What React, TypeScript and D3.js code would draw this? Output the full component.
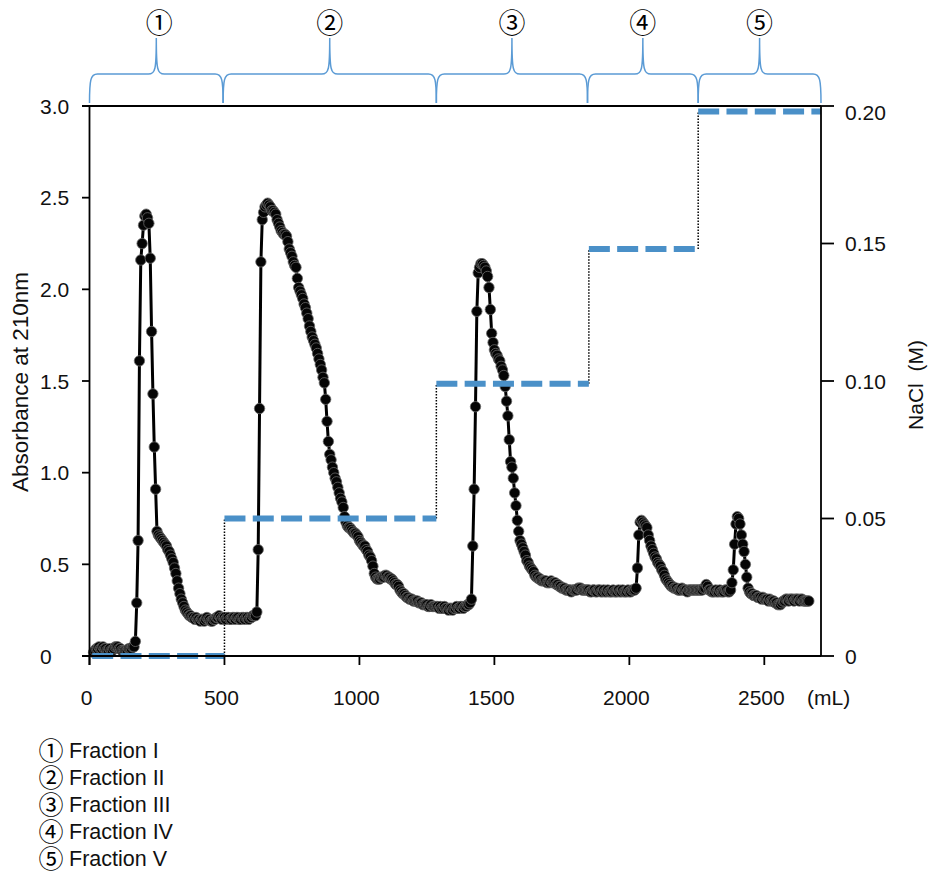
import * as d3 from "d3";
import { useEffect, useRef } from "react";

// Elution volume (mL) of the first fraction in each block; fractions every 5 mL
const blockStart = [15, 500, 1285, 1850, 2255];
const volumeStep = 5;

// Absorbance at 210 nm, block 1: 15 - 495 mL
const absBlock1 = [
  0.02, 0.03, 0.04, 0.04, 0.05, 0.04, 0.04, 0.05, 0.04, 0.04,
  0.03, 0.03, 0.04, 0.03, 0.03, 0.04, 0.05, 0.05, 0.05, 0.04,
  0.04, 0.03, 0.03, 0.03, 0.03, 0.03, 0.04, 0.04, 0.04, 0.05,
  0.05, 0.08, 0.29, 0.63, 1.61, 2.16, 2.25, 2.35, 2.40, 2.41,
  2.39, 2.36, 2.17, 1.77, 1.43, 1.14, 0.91, 0.68, 0.66, 0.65,
  0.64, 0.63, 0.62, 0.61, 0.60, 0.58, 0.57, 0.55, 0.53, 0.51,
  0.48, 0.45, 0.41, 0.37, 0.34, 0.31, 0.29, 0.27, 0.25, 0.24,
  0.23, 0.22, 0.22, 0.21, 0.21, 0.20, 0.21, 0.20, 0.20, 0.19,
  0.20, 0.20, 0.19, 0.20, 0.21, 0.20, 0.20, 0.19, 0.19, 0.20,
  0.20, 0.21, 0.21, 0.22, 0.21, 0.20, 0.21,
];

// block 2: 500 - 1280 mL
const absBlock2 = [
  0.21, 0.20, 0.21, 0.21, 0.20, 0.20, 0.21, 0.21, 0.20, 0.21,
  0.21, 0.20, 0.20, 0.21, 0.21, 0.20, 0.21, 0.21, 0.20, 0.21,
  0.21, 0.22, 0.22, 0.22, 0.24, 0.58, 1.35, 2.15, 2.38, 2.42,
  2.45, 2.46, 2.47, 2.46, 2.45, 2.43, 2.43, 2.42, 2.41, 2.38,
  2.36, 2.34, 2.32, 2.31, 2.30, 2.30, 2.29, 2.26, 2.22, 2.20,
  2.18, 2.15, 2.13, 2.12, 2.06, 2.01, 1.99, 1.97, 1.95, 1.92,
  1.90, 1.87, 1.84, 1.80, 1.77, 1.74, 1.72, 1.70, 1.68, 1.65,
  1.62, 1.59, 1.56, 1.52, 1.49, 1.40, 1.28, 1.17, 1.10, 1.07,
  1.03, 1.00, 0.97, 0.95, 0.92, 0.89, 0.86, 0.84, 0.81, 0.76,
  0.73, 0.71, 0.70, 0.70, 0.69, 0.68, 0.67, 0.67, 0.66, 0.65,
  0.63, 0.62, 0.61, 0.60, 0.60, 0.58, 0.57, 0.55, 0.54, 0.52,
  0.49, 0.45, 0.43, 0.42, 0.42, 0.42, 0.43, 0.43, 0.43, 0.44,
  0.44, 0.43, 0.43, 0.42, 0.42, 0.41, 0.40, 0.39, 0.39, 0.38,
  0.36, 0.35, 0.34, 0.34, 0.33, 0.32, 0.32, 0.31, 0.31, 0.31,
  0.30, 0.30, 0.30, 0.30, 0.29, 0.29, 0.29, 0.28, 0.28, 0.28,
  0.28, 0.27, 0.27, 0.28, 0.27, 0.27, 0.27,
];

// block 3: 1285 - 1845 mL
const absBlock3 = [
  0.27, 0.27, 0.26, 0.27, 0.26, 0.26, 0.27, 0.26, 0.26, 0.25,
  0.26, 0.26, 0.25, 0.26, 0.26, 0.27, 0.26, 0.26, 0.27, 0.27,
  0.26, 0.27, 0.27, 0.28, 0.28, 0.29, 0.31, 0.60, 0.91, 1.36,
  1.88, 2.09, 2.12, 2.14, 2.14, 2.13, 2.12, 2.10, 2.07, 2.01,
  1.89, 1.76, 1.71, 1.67, 1.65, 1.64, 1.62, 1.61, 1.58, 1.56,
  1.53, 1.47, 1.39, 1.31, 1.18, 1.06, 1.03, 0.97, 0.89, 0.82,
  0.74, 0.68, 0.63, 0.61, 0.59, 0.57, 0.55, 0.52, 0.51, 0.49,
  0.48, 0.47, 0.46, 0.44, 0.43, 0.43, 0.42, 0.42, 0.41, 0.41,
  0.41, 0.41, 0.40, 0.40, 0.40, 0.41, 0.40, 0.40, 0.40, 0.39,
  0.39, 0.38, 0.38, 0.37, 0.37, 0.37, 0.36, 0.36, 0.36, 0.36,
  0.35, 0.36, 0.36, 0.36, 0.36, 0.37, 0.37, 0.37, 0.36, 0.36,
  0.36, 0.36, 0.36,
];

// block 4: 1850 - 2250 mL
const absBlock4 = [
  0.36, 0.35, 0.35, 0.36, 0.36, 0.35, 0.35, 0.36, 0.36, 0.35,
  0.35, 0.36, 0.35, 0.35, 0.36, 0.35, 0.35, 0.35, 0.36, 0.35,
  0.35, 0.35, 0.36, 0.35, 0.35, 0.36, 0.35, 0.35, 0.35, 0.36,
  0.35, 0.35, 0.36, 0.36, 0.36, 0.37, 0.48, 0.66, 0.73, 0.74,
  0.73, 0.72, 0.71, 0.70, 0.66, 0.63, 0.60, 0.58, 0.56, 0.54,
  0.53, 0.51, 0.50, 0.49, 0.47, 0.46, 0.44, 0.42, 0.41, 0.40,
  0.39, 0.38, 0.38, 0.37, 0.37, 0.37, 0.36, 0.36, 0.36, 0.37,
  0.36, 0.36, 0.36, 0.35, 0.36, 0.36, 0.36, 0.36, 0.36, 0.36,
  0.36,
];

// block 5: 2255 - 2665 mL
const absBlock5 = [
  0.36, 0.36, 0.36, 0.36, 0.37, 0.37, 0.39, 0.38, 0.36, 0.36,
  0.35, 0.35, 0.35, 0.36, 0.35, 0.35, 0.36, 0.35, 0.35, 0.35,
  0.36, 0.36, 0.35, 0.35, 0.36, 0.40, 0.47, 0.61, 0.72, 0.76,
  0.75, 0.72, 0.66, 0.61, 0.57, 0.50, 0.43, 0.37, 0.35, 0.34,
  0.34, 0.33, 0.33, 0.33, 0.32, 0.32, 0.32, 0.31, 0.32, 0.31,
  0.31, 0.31, 0.30, 0.31, 0.30, 0.30, 0.30, 0.29, 0.29, 0.28,
  0.28, 0.28, 0.29, 0.30, 0.30, 0.31, 0.31, 0.30, 0.31, 0.31,
  0.31, 0.30, 0.31, 0.31, 0.31, 0.30, 0.31, 0.31, 0.30, 0.30,
  0.30, 0.30, 0.30,
];

const absBlocks = [absBlock1, absBlock2, absBlock3, absBlock4, absBlock5];

// NaCl step gradient
const naclFrom = [10, 500, 1285, 1850, 2255];
const naclTo = [500, 1285, 1850, 2255, 2710];
const naclLevel = [0, 0.05, 0.099, 0.148, 0.198];

// pooled fractions (braces on top)
const fractionFrom = [0, 495, 1285, 1845, 2255];
const fractionTo = [495, 1285, 1845, 2255, 2710];
const fractionMarks = ["①", "②", "③", "④", "⑤"];
const fractionNames = ["Fraction I", "Fraction II", "Fraction III", "Fraction IV", "Fraction V"];

const volumeTicks = [0, 500, 1000, 1500, 2000, 2500];
const absTicks = [0, 0.5, 1, 1.5, 2, 2.5, 3];
const absTickLabels = ["0", "0.5", "1.0", "1.5", "2.0", "2.5", "3.0"];
const naclTicks = [0, 0.05, 0.1, 0.15, 0.2];
const naclTickLabels = ["0", "0.05", "0.10", "0.15", "0.20"];

const FONT = "'Liberation Sans', Arial, sans-serif";
const MARK_FONT = "'Noto Sans CJK JP', sans-serif";
const BLUE = "#4a90c8";
const BRACE = "#5b9bd5";

const App = () => {
  const ref = useRef(null);

  useEffect(() => {
    const svg = d3.select(ref.current);
    svg.selectAll("*").remove();

    const left = 89.5, right = 821, top = 106, bottom = 656;

    const x = d3.scaleLinear().domain([0, 2710]).range([left, right]);
    const y = d3.scaleLinear().domain([0, 3]).range([bottom, top]);
    const yNacl = d3.scaleLinear().domain([0, 0.2]).range([bottom, top]);

    const points = absBlocks.flatMap((vals, b) =>
      vals.map((a, i) => ({ v: blockStart[b] + i * volumeStep, a }))
    );

    // Braces for the pooled fractions
    const braceBottom = 103, braceBar = 74, braceTip = 38;
    const marks = svg.append("text")
      .attr("text-anchor", "middle")
      .style("font-family", MARK_FONT)
      .style("font-size", "27px");
    fractionFrom.forEach((f, i) => {
      const x0 = x(f), x1 = x(fractionTo[i]), m = (x0 + x1) / 2;
      const p = d3.path();
      p.moveTo(x0, braceBottom);
      p.bezierCurveTo(x0, 80, x0 + 1, braceBar, x0 + 8, braceBar);
      p.lineTo(m - 8, braceBar);
      p.bezierCurveTo(m - 1, braceBar, m, 70, m, braceTip);
      p.bezierCurveTo(m, 70, m + 1, braceBar, m + 8, braceBar);
      p.lineTo(x1 - 8, braceBar);
      p.bezierCurveTo(x1 - 1, braceBar, x1, 80, x1, braceBottom);
      svg.append("path")
        .attr("d", p.toString())
        .attr("fill", "none")
        .attr("stroke", BRACE)
        .attr("stroke-width", 1.5);

      marks.append("tspan")
        .attr("x", m + (i === 0 ? 3 : 0))
        .attr("y", 32.5)
        .text(fractionMarks[i]);
    });

    // Absorbance trace
    const line = d3.line()
      .x(d => x(d.v))
      .y(d => y(d.a));
    svg.append("path")
      .datum(points)
      .attr("d", line)
      .attr("fill", "none")
      .attr("stroke", "#000")
      .attr("stroke-width", 3);

    svg.append("g")
      .selectAll("circle")
      .data(points)
      .enter()
      .append("circle")
      .attr("cx", d => x(d.v))
      .attr("cy", d => y(d.a))
      .attr("r", 5.2)
      .attr("fill", "#050505")
      .attr("stroke", "#6a6a6a")
      .attr("stroke-width", 0.8);

    // NaCl step gradient: dotted risers, dashed levels
    naclLevel.slice(1).forEach((lv, i) => {
      svg.append("line")
        .attr("x1", x(naclTo[i]))
        .attr("x2", x(naclTo[i]))
        .attr("y1", yNacl(naclLevel[i]))
        .attr("y2", yNacl(lv))
        .attr("stroke", "#000")
        .attr("stroke-width", 1.5)
        .attr("stroke-dasharray", "1.5,1.5");
    });
    naclLevel.forEach((lv, i) => {
      svg.append("line")
        .attr("x1", x(naclFrom[i]))
        .attr("x2", x(naclTo[i]))
        .attr("y1", yNacl(lv))
        .attr("y2", yNacl(lv))
        .attr("stroke", BLUE)
        .attr("stroke-width", 6)
        .attr("stroke-dasharray", "21,7.3");
    });

    // Frame and axes
    const axis = svg.append("g").attr("stroke", "#000").attr("stroke-width", 1.8);
    axis.append("line").attr("x1", left).attr("x2", left).attr("y1", top).attr("y2", bottom + 9);
    axis.append("line").attr("x1", right).attr("x2", right).attr("y1", top).attr("y2", bottom);
    axis.append("line").attr("x1", left - 7.5).attr("x2", right).attr("y1", bottom).attr("y2", bottom);
    axis.append("line").attr("x1", left - 7.5).attr("x2", right).attr("y1", top).attr("y2", top);

    axis.selectAll(".xt")
      .data(volumeTicks)
      .enter()
      .append("line")
      .attr("x1", d => x(d))
      .attr("x2", d => x(d))
      .attr("y1", bottom)
      .attr("y2", bottom + 9);
    axis.selectAll(".yt")
      .data(absTicks)
      .enter()
      .append("line")
      .attr("x1", left - 7.5)
      .attr("x2", left)
      .attr("y1", d => y(d))
      .attr("y2", d => y(d));
    axis.selectAll(".rt")
      .data(naclTicks)
      .enter()
      .append("line")
      .attr("x1", right)
      .attr("x2", right + 13)
      .attr("y1", d => yNacl(d))
      .attr("y2", d => yNacl(d));

    const label = (tx, ty, s, anchor = "start", size = 21) =>
      svg.append("text")
        .attr("x", tx)
        .attr("y", ty)
        .attr("text-anchor", anchor)
        .style("font-family", FONT)
        .style("font-size", `${size}px`)
        .attr("fill", "#111")
        .text(s);

    volumeTicks.forEach(t => label(x(t) - 3, 705, String(t), "middle"));
    label(807, 705, "(mL)");
    absTicks.forEach((t, i) => label(40, y(t) + 7.5, absTickLabels[i]));
    naclTicks.forEach((t, i) => label(845, yNacl(t) + 7.5 + (i === 4 ? 6 : 0), naclTickLabels[i]));

    label(0, 0, "Absorbance at 210nm", "middle", 22.5)
      .attr("transform", "translate(28,382) rotate(-90)");
    label(0, 0, "NaCl  (M)", "middle")
      .style("white-space", "pre")
      .attr("transform", "translate(923,385) rotate(-90)");

    // Legend
    const legendMarks = svg.append("text")
      .style("font-family", MARK_FONT)
      .style("font-size", "25px");
    fractionNames.forEach((name, i) => {
      const cy = 750 + i * 27;
      legendMarks.append("tspan")
        .attr("x", 38.5)
        .attr("y", cy + 9.5)
        .text(fractionMarks[i]);
      label(69, cy + 7.5, name, "start", 21.5);
    });
  }, []);

  return (
    <svg
      ref={ref}
      width={930}
      height={873}
      style={{ position: "absolute", left: 0, top: 0, background: "#fff" }}
    />
  );
};

export default App;
